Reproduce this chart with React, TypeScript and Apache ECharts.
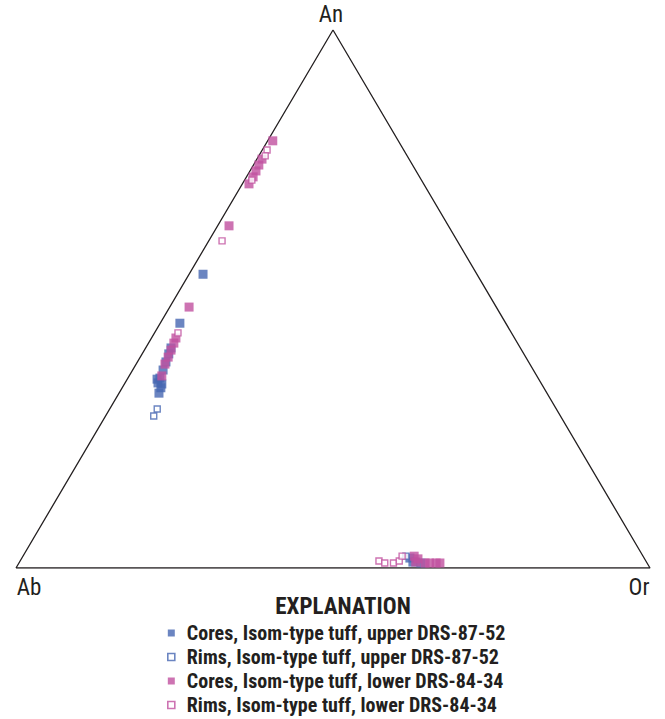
import React, { useEffect, useRef } from "react";
import * as echarts from "echarts";

// Ternary compositions, mol %: [Ab, An, Or]
const vertexLabels = ["Ab", "An", "Or"];

const coresUpper: number[][] = [
  [43.2, 54.6, 2.2],
  [51.4, 45.5, 3.1],
  [55.1, 40.9, 4.0],
  [56.0, 39.8, 4.2],
  [57.2, 38.3, 4.5],
  [58.4, 36.8, 4.8],
  [59.65, 35.3, 5.05],
  [60.4, 34.4, 5.2],
  [60.4, 33.5, 6.1],
  [61.2, 32.5, 6.3],
  [59.9, 34.2, 5.9],
  [60.2, 35.1, 4.7],
  [36.95, 1.85, 61.2],
  [36.85, 1.1, 62.05],
  [35.67, 0.93, 63.4],
];

const rimsUpper: number[][] = [
  [62.95, 29.55, 7.5],
  [64.15, 28.25, 7.6],
  [37.4, 2.2, 60.4],
];

const coresLower: number[][] = [
  [19.8, 79.4, 0.8],
  [23.2, 76.0, 0.8],
  [24.25, 74.9, 0.85],
  [25.25, 73.8, 0.95],
  [26.25, 72.7, 1.05],
  [27.55, 71.4, 1.05],
  [34.6, 63.6, 1.8],
  [48.45, 48.5, 3.05],
  [53.4, 42.75, 3.85],
  [54.2, 41.8, 4.0],
  [55.3, 40.5, 4.2],
  [56.4, 39.2, 4.4],
  [57.55, 37.9, 4.55],
  [59.15, 35.7, 5.15],
  [36.1, 2.2, 61.7],
  [35.75, 1.7, 62.55],
  [35.02, 0.93, 64.05],
  [34.27, 0.93, 64.8],
  [33.27, 0.93, 65.8],
  [32.67, 0.93, 66.4],
  [36.4, 1.1, 62.5],
];

const rimsLower: number[][] = [
  [21.55, 77.7, 0.75],
  [22.4, 76.6, 1.0],
  [26.75, 72.1, 1.15],
  [37.1, 60.8, 2.1],
  [52.6, 43.7, 3.7],
  [42.1, 1.3, 56.6],
  [41.37, 0.93, 57.7],
  [40.0, 0.93, 59.07],
  [38.9, 1.3, 59.8],
  [38.0, 2.2, 59.8],
];

const seriesNames = [
  "Cores, Isom-type tuff, upper DRS-87-52",
  "Rims, Isom-type tuff, upper DRS-87-52",
  "Cores, Isom-type tuff, lower DRS-84-34",
  "Rims, Isom-type tuff, lower DRS-84-34",
];

const BLUE = "#4666b2";
const PINK = "#c0509f";
const INK = "#231f20";
const NARROW = "'Liberation Sans Narrow', 'Arial Narrow', 'Roboto Condensed', 'Liberation Sans', sans-serif";

// ternary -> cartesian (x: 0..100 along Ab->Or, y: An %)
const toXY = (p: number[]) => {
  const [ab, an, or] = p;
  const s = ab + an + or;
  const A = (an / s) * 100;
  const O = (or / s) * 100;
  return [O + A / 2, A];
};

export default function App() {
  const ref = useRef<HTMLDivElement>(null);
  useEffect(() => {
    if (!ref.current) return;
    const chart = echarts.init(ref.current, undefined, { renderer: "svg" });
    const filled = (name: string, color: string, data: number[][]) => ({
      name,
      type: "scatter",
      symbol: "rect",
      symbolSize: 9,
      itemStyle: { color },
      data: data.map(toXY),
      z: 3,
    });
    const open = (name: string, color: string, data: number[][]) => ({
      name,
      type: "scatter",
      symbol: "rect",
      symbolSize: 6,
      itemStyle: { color: "#ffffff", borderColor: color, borderWidth: 1.4 },
      data: data.map(toXY),
      z: 4,
    });
    chart.setOption({
      animation: false,
      backgroundColor: "#ffffff",
      grid: { left: 16, right: 15, top: 30, bottom: 151 },
      xAxis: { type: "value", min: 0, max: 100, show: false },
      yAxis: { type: "value", min: 0, max: 100, show: false },
      legend: {
        orient: "vertical",
        left: 167,
        top: 623,
        padding: 0,
        itemWidth: 7,
        itemHeight: 7,
        itemGap: 4,
        selectedMode: false,
        data: [
          { name: seriesNames[0], icon: "rect", itemStyle: { color: BLUE } },
          { name: seriesNames[1], icon: "rect", itemStyle: { color: "#fff", borderColor: BLUE, borderWidth: 1.6 } },
          { name: seriesNames[2], icon: "rect", itemStyle: { color: PINK } },
          { name: seriesNames[3], icon: "rect", itemStyle: { color: "#fff", borderColor: PINK, borderWidth: 1.6 } },
        ],
        textStyle: {
          fontFamily: NARROW,
          fontWeight: "bold",
          fontSize: 20,
          color: INK,
          lineHeight: 20,
          padding: [0, 0, 0, 7],
        },
      },
      graphic: [
        { type: "text", x: 343, y: 606, style: { text: "EXPLANATION", fontFamily: NARROW, fontWeight: "bold", fontSize: 23, fill: INK, align: "center", verticalAlign: "middle" } },
        { type: "text", x: 331, y: 14, style: { text: vertexLabels[1], fontFamily: NARROW, fontSize: 23, fill: INK, align: "center", verticalAlign: "middle" } },
        { type: "text", x: 29, y: 587, style: { text: vertexLabels[0], fontFamily: NARROW, fontSize: 23, fill: INK, align: "center", verticalAlign: "middle" } },
        { type: "text", x: 639, y: 587, style: { text: vertexLabels[2], fontFamily: NARROW, fontSize: 23, fill: INK, align: "center", verticalAlign: "middle" } },
      ],
      series: [
        {
          type: "line",
          data: [[0, 0], [100, 0], [50, 100], [0, 0]],
          symbol: "none",
          lineStyle: { color: INK, width: 1.3 },
          silent: true,
          z: 1,
        },
        filled(seriesNames[0], BLUE, coresUpper),
        open(seriesNames[1], BLUE, rimsUpper),
        filled(seriesNames[2], PINK, coresLower),
        open(seriesNames[3], PINK, rimsLower),
      ],
    });
    return () => chart.dispose();
  }, []);
  return (
    <div
      ref={ref}
      style={{ position: "fixed", left: 0, top: 0, width: 665, height: 719 }}
    />
  );
}
